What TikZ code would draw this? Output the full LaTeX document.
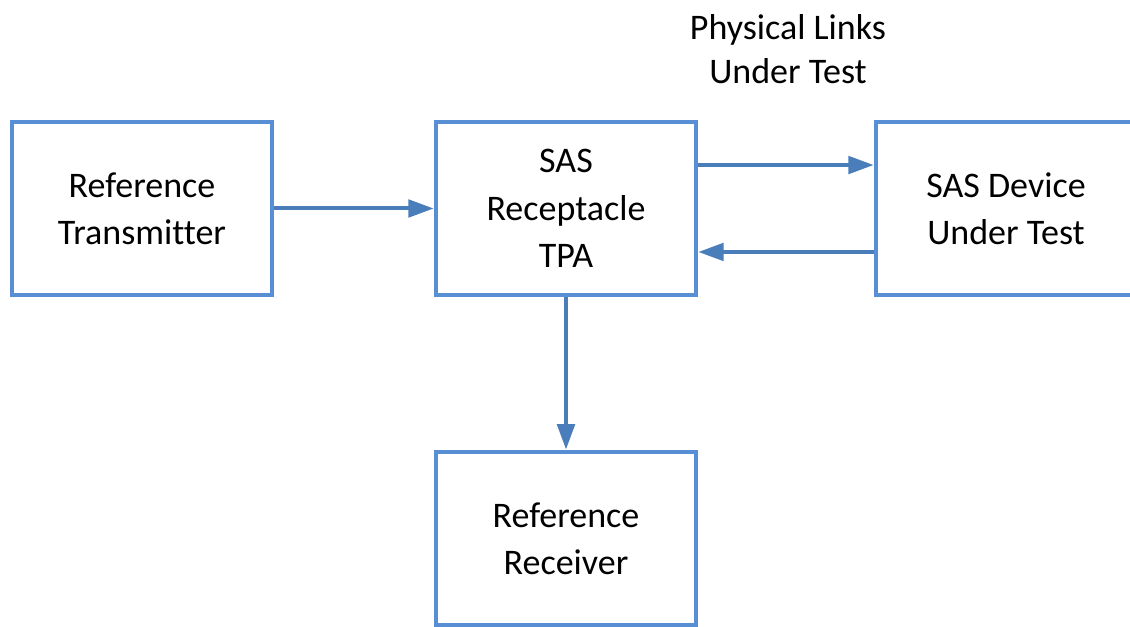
\documentclass[tikz,border=0pt]{standalone}
\usepackage{fontspec}
\setmainfont{Carlito}[Ligatures=NoCommon]
\usetikzlibrary{arrows.meta}
\definecolor{boxblue}{RGB}{88,142,212}
\definecolor{linkblue}{RGB}{74,126,187}

\begin{document}
\begin{tikzpicture}[x=0.75pt,y=-0.75pt,
  block/.style={draw=boxblue,line width=3.4pt,minimum width=195pt,minimum height=130pt,
    align=center,font=\fontsize{27}{35.5}\selectfont},
  link/.style={draw=linkblue,line width=3pt,-{Triangle[length=19pt,width=13pt]}}]
\useasboundingbox (0,0) rectangle (1130,627);
%Блоки схемы
\node [block] (tx) at (142,208.5) {Reference\\Transmitter};
\node [block] (tpa) at (566,208.5) {SAS\\Receptacle\\TPA};
\node [block] (dut) at (1006,208.5) {SAS Device\\Under Test};
\node [block] (rx) at (566,538.5) {Reference\\Receiver};
%Подпись над линиями
\node [align=center,font=\fontsize{27}{33.5}\selectfont] (phys) at (788,49) {Physical Links\\Under Test};
%Соединения
\draw [link] (tx.east) -- (tpa.west);
\draw [link] ([yshift=32.6pt]tpa.east) -- ([yshift=32.6pt]dut.west);
\draw [link] ([yshift=-32.6pt]dut.west) -- ([yshift=-32.6pt]tpa.east);
\draw [link] (tpa.south) -- (rx.north);
\end{tikzpicture}
\end{document}
